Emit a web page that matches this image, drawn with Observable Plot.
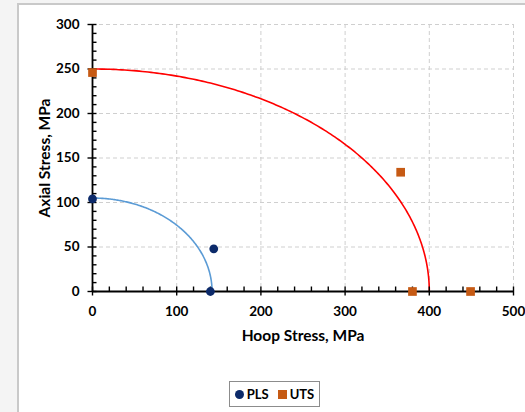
<!DOCTYPE html>
<html>
<head>
<meta charset="utf-8">
<script src="https://cdn.jsdelivr.net/npm/d3@7"></script>
<script src="https://cdn.jsdelivr.net/npm/@observablehq/plot@0.6"></script>
<style>
  html, body { margin: 0; padding: 0; background: #f4f4f4; width: 525px; height: 412px; overflow: hidden; }
  #frame { position: absolute; left: 17px; top: 3px; right: 0; bottom: 0; background: #fff;
           border-left: 2px solid #c9c9c9; border-top: 2px solid #c9c9c9; }
  #chart { position: absolute; left: 0; top: 0; }
  #legend { position: absolute; left: 229px; top: 381px; width: 91px; height: 26px; box-sizing: border-box;
            border: 1px solid #8c8c8c; background: #fff; display: flex; align-items: center; justify-content: center;
            font-family: Lato, sans-serif; font-weight: bold; font-size: 13px; color: #000; gap: 9px; }
  .item { display: flex; align-items: center; gap: 3px; }
  .dot { width: 9px; height: 9px; border-radius: 50%; background: #0c2a6a; }
  .sq { width: 9px; height: 9px; background: #c65a14; }
  #chart svg text { font-family: Lato, sans-serif; }
</style>
</head>
<body>
<div id="frame"></div>
<div id="chart"></div>
<div id="legend">
  <span class="item"><span class="dot"></span>PLS</span>
  <span class="item"><span class="sq"></span>UTS</span>
</div>
<script>
// Measured points (MPa)
const plsHoop  = [0, 140, 144];
const plsAxial = [104, 0, 48];
const utsHoop  = [0, 366, 380, 449];
const utsAxial = [246, 134, 0, 0];

// Elliptical failure envelopes: hoop and axial intercepts
const curveSeries = ["PLS", "UTS"];
const curveHoopIntercept  = [142, 400];
const curveAxialIntercept = [105, 250];
const curveColors = ["#5b9bd5", "#ff0000"];

// Axis ticks
const majorX = [0, 100, 200, 300, 400, 500];
const majorY = [0, 50, 100, 150, 200, 250, 300];
const minorX = d3.range(0, 501, 20).filter(v => v % 100 !== 0);
const minorY = d3.range(0, 301, 10).filter(v => v % 50 !== 0);

const pls = plsHoop.map((h, i) => ({hoop: h, axial: plsAxial[i]}));
const uts = utsHoop.map((h, i) => ({hoop: h, axial: utsAxial[i]}));

// Quarter ellipse traced from its two intercepts
const envelope = curveSeries.flatMap((s, i) =>
  d3.range(0, 90.01, 0.5).map(deg => {
    const t = deg * Math.PI / 180;
    return {series: s, hoop: curveHoopIntercept[i] * Math.cos(t), axial: curveAxialIntercept[i] * Math.sin(t)};
  })
);

const grid = {stroke: "#cfcfcf", strokeOpacity: 1, strokeDasharray: "4,3", strokeWidth: 1};
const blank = () => "";
const font = "Lato, sans-serif";

const chart = Plot.plot({
  width: 525,
  height: 372,
  marginLeft: 92,
  marginRight: 12,
  marginTop: 24,
  marginBottom: 81,
  x: {domain: [0, 500]},
  y: {domain: [0, 300]},
  style: {fontFamily: font, fontWeight: "bold", fontSize: "13.5px", background: "transparent", color: "#000", overflow: "visible"},
  marks: [
    Plot.gridX(majorX.slice(1), grid),
    Plot.gridY(majorY.slice(1), grid),
    ...curveSeries.map((s, i) =>
      Plot.line(envelope.filter(d => d.series === s), {x: "hoop", y: "axial", stroke: curveColors[i], strokeWidth: 1.6})
    ),
    Plot.ruleY([0], {stroke: "#000", strokeWidth: 1.8}),
    Plot.ruleX([0], {stroke: "#000", strokeWidth: 1.8}),
    // crossing major ticks and inward minor ticks
    Plot.axisX(majorX, {tickSize: 9, dy: -4.5, tickFormat: blank, label: null, strokeWidth: 1.4}),
    Plot.axisX(minorX, {tickSize: 4.5, dy: -4.5, tickFormat: blank, label: null, strokeWidth: 1.4}),
    Plot.axisY(majorY, {tickSize: 9, dx: 4.5, tickFormat: blank, label: null, strokeWidth: 1.4}),
    Plot.axisY(minorY, {tickSize: 4.5, dx: 4.5, tickFormat: blank, label: null, strokeWidth: 1.4}),
    // tick labels
    Plot.axisX(majorX, {tickSize: 0, tickPadding: 15, label: null, fontSize: 13.5, fontFamily: font, fontWeight: "bold"}),
    Plot.axisY(majorY, {tickSize: 0, tickPadding: 13, label: null, fontSize: 13.5, fontFamily: font, fontWeight: "bold"}),
    // axis titles
    Plot.text(["Hoop Stress, MPa"], {frameAnchor: "bottom", dy: 45, textAnchor: "middle", lineAnchor: "middle",
      fontSize: 15.5, fontWeight: "bold", fontFamily: font}),
    Plot.text(["Axial Stress, MPa"], {frameAnchor: "left", dx: -47, rotate: -90, textAnchor: "middle", lineAnchor: "middle",
      fontSize: 15.5, fontWeight: "bold", fontFamily: font}),
    // points
    Plot.dot(uts, {x: "hoop", y: "axial", symbol: "square", r: 4.9, fill: "#c65a14"}),
    Plot.dot(pls, {x: "hoop", y: "axial", r: 4.4, fill: "#0c2a6a"})
  ]
});
document.getElementById("chart").append(chart);
</script>
</body>
</html>
